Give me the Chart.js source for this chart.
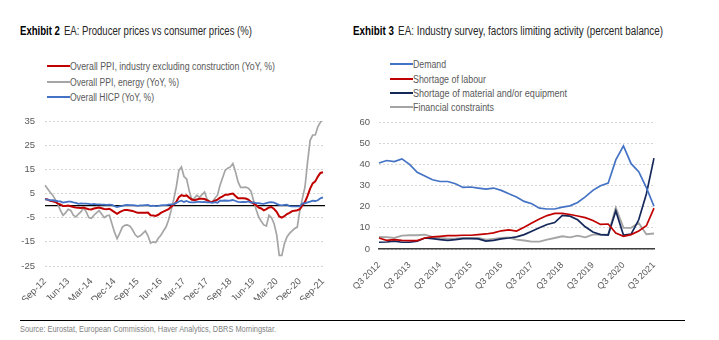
<!DOCTYPE html>
<html>
<head>
<meta charset="utf-8">
<script src="https://cdn.jsdelivr.net/npm/chart.js@4.4.0/dist/chart.umd.min.js"></script>
<style>
    body { margin: 0; background: #fff; }
    #page { position: relative; width: 719px; height: 340px; font-family: 'Liberation Sans', Arial, sans-serif; color: #595959; }
    .title { position: absolute; top: 24px; font-size: 12px; color: #262626; white-space: nowrap; transform-origin: 0 50%; }
    .title b { color: #000; margin-right: 5px; }
    .leg { position: absolute; font-size: 10px; white-space: nowrap; line-height: 12px; }
    .leg i { display: inline-block; width: 23px; height: 2px; vertical-align: middle; margin-right: 0; margin-top: -2px; }
    .fit { display: inline-block; transform-origin: 0 50%; }
    canvas { position: absolute; }
    #rule { position: absolute; left: 20px; top: 320px; width: 665px; height: 0; border-top: 1.5px solid #000; }
    #source { position: absolute; left: 20px; top: 324px; font-size: 8.5px; color: #7f7f7f; white-space: nowrap; transform-origin: 0 50%; }
</style>
</head>
<body>
<div id="page">
    <div class="title fit" data-w="232" style="left:20px"><b>Exhibit 2</b>EA: Producer prices vs consumer prices (%)</div>
    <div class="title fit" data-w="310" style="left:353px"><b>Exhibit 3</b>EA: Industry survey, factors limiting activity (percent balance)</div>

    <div class="leg" style="left:47px;top:61px"><i style="background:#c00000"></i><span class="fit" data-w="205">Overall PPI, industry excluding construction (YoY, %)</span></div>
    <div class="leg" style="left:47px;top:77px"><i style="background:#a5a5a5"></i><span class="fit" data-w="109">Overall PPI, energy (YoY, %)</span></div>
    <div class="leg" style="left:47px;top:92px"><i style="background:#4472c4"></i><span class="fit" data-w="84">Overall HICP (YoY, %)</span></div>

    <div class="leg" style="left:390px;top:59px"><i style="background:#4472c4"></i><span class="fit" data-w="33">Demand</span></div>
    <div class="leg" style="left:390px;top:74px"><i style="background:#c00000"></i><span class="fit" data-w="73">Shortage of labour</span></div>
    <div class="leg" style="left:390px;top:88px"><i style="background:#14285a"></i><span class="fit" data-w="154">Shortage of material and/or equipment</span></div>
    <div class="leg" style="left:390px;top:102px"><i style="background:#a5a5a5"></i><span class="fit" data-w="81">Financial constraints</span></div>

    <canvas id="graphPrices" width="345" height="200" style="left:0;top:100px"></canvas>
    <canvas id="graphSurvey" width="374" height="200" style="left:345px;top:100px"></canvas>

    <div id="rule"></div>
    <div id="source" class="fit" data-w="256">Source: Eurostat, European Commission, Haver Analytics, DBRS Morningstar.</div>
</div>

<script>
// squeeze the html texts to the narrow look of the original
document.querySelectorAll('.fit').forEach(function (el) {
    var w = el.getBoundingClientRect().width;
    el.style.transform = 'scaleX(' + (el.getAttribute('data-w') / w) + ')';
});

// Exhibit 2 - monthly, Sep-12 to Sep-21
var monthNames = ['Jan', 'Feb', 'Mar', 'Apr', 'May', 'Jun', 'Jul', 'Aug', 'Sep', 'Oct', 'Nov', 'Dec'];
var months = [];
for (var k = 0; k < 109; k++) {
    var m = (8 + k) % 12, y = 12 + Math.floor((8 + k) / 12);
    months.push(monthNames[m] + '-' + y);
}
var monthTicks = ['Sep-12', 'Jun-13', 'Mar-14', 'Dec-14', 'Sep-15', 'Jun-16', 'Mar-17', 'Dec-17', 'Sep-18', 'Jun-19', 'Mar-20', 'Dec-20', 'Sep-21'];

var ppiIndustry = [
    2.7, 2.5, 2.0, 1.8,
    1.5, 0.8, 0.5, -0.2, -0.2, 0.0, -0.3, -0.6, -0.8, -0.9, -1.0, -0.8,
    -1.2, -1.5, -1.6, -1.2, -1.0, -0.8, -1.1, -1.4, -1.5, -1.3, -2.0, -2.7,
    -3.4, -2.7, -2.2, -1.8, -1.8, -2.0, -2.2, -2.6, -3.0, -3.0, -3.0, -3.0,
    -2.9, -4.0, -4.1, -4.3, -3.8, -3.0, -2.5, -2.0, -1.5, -0.5, 0.3, 1.5,
    3.5, 4.3, 4.0, 4.2, 3.3, 2.5, 2.2, 2.5, 2.8, 2.8, 2.7, 2.2,
    1.6, 1.5, 2.0, 2.5, 3.3, 3.8, 4.5, 4.5, 4.8, 5.0, 4.0, 3.0,
    3.0, 3.0, 2.9, 2.5, 1.5, 0.8, 0.2, -0.8, -1.2, -2.0, -1.5, -0.8,
    -0.6, -1.4, -2.6, -4.5, -5.0, -4.4, -3.5, -3.0, -2.3, -2.1, -1.9, -1.5,
    0.1, 1.5, 4.0, 7.0, 9.2, 10.0, 12.0, 13.5, 13.8
];
var ppiEnergy = [
    8.4, 7.0, 5.5, 4.3,
    2.5, 0.5, -2.0, -4.0, -3.0, -1.5, -2.0, -4.0, -4.7, -3.5, -2.5, -1.0,
    -2.5, -5.0, -5.3, -4.0, -3.0, -2.0, -3.5, -5.0, -4.2, -4.0, -7.5, -11.0,
    -13.7, -11.5, -9.0, -8.2, -8.0, -8.5, -10.0, -12.0, -13.0, -12.5, -11.5, -10.5,
    -12.5, -15.5, -15.0, -15.3, -13.5, -12.3, -10.5, -8.9, -6.0, -2.0, 2.5, 7.7,
    14.5, 16.0, 12.0, 11.0, 6.3, 2.5, 3.0, 4.3, 3.4, 4.5, 5.6, 2.5,
    1.8, 1.5, 3.0, 4.3, 8.4, 11.5, 14.6, 15.5, 16.0, 17.4, 14.0, 9.8,
    7.5, 7.5, 7.6, 7.2, 6.0, 2.2, -1.5, -4.7, -6.5, -8.0, -8.5, -4.0,
    -5.0, -7.5, -12.0, -20.6, -20.6, -15.8, -13.0, -11.5, -10.5, -9.5, -8.9, -2.0,
    3.0, 7.7, 18.0, 27.0, 29.2, 29.2, 32.6, 34.5, 36.0
];
var hicp = [
    2.6, 2.5, 2.2, 2.2,
    2.0, 1.8, 1.7, 1.2, 1.4, 1.6, 1.6, 1.3, 1.1, 0.7, 0.9, 0.8,
    0.8, 0.7, 0.5, 0.7, 0.5, 0.5, 0.4, 0.4, 0.3, 0.4, 0.3, -0.2,
    -0.6, -0.3, -0.1, 0.2, 0.3, 0.2, 0.2, 0.1, -0.1, 0.1, 0.1, 0.2,
    0.3, -0.2, 0.0, -0.2, -0.1, 0.1, 0.2, 0.2, 0.4, 0.5, 0.6, 1.1,
    1.7, 2.0, 1.5, 1.9, 1.4, 1.3, 1.3, 1.5, 1.5, 1.4, 1.5, 1.3,
    1.3, 1.1, 1.4, 1.2, 2.0, 2.0, 2.1, 2.0, 2.1, 2.3, 1.9, 1.5,
    1.4, 1.5, 1.4, 1.7, 1.2, 1.3, 1.0, 1.0, 0.8, 0.7, 1.0, 1.3,
    1.4, 1.2, 0.7, 0.3, 0.1, 0.3, 0.4, -0.2, -0.3, -0.3, -0.3, -0.3,
    0.9, 0.9, 1.3, 1.6, 2.0, 1.9, 2.2, 3.0, 3.4
];

// Exhibit 3 - quarterly, Q3 2012 to Q3 2021
var quarters = [];
for (var j = 0; j < 37; j++) {
    quarters.push('Q' + ((2 + j) % 4 + 1) + ' ' + (2012 + Math.floor((2 + j) / 4)));
}
var quarterTicks = ['Q3 2012', 'Q3 2013', 'Q3 2014', 'Q3 2015', 'Q3 2016', 'Q3 2017', 'Q3 2018', 'Q3 2019', 'Q3 2020', 'Q3 2021'];

var demand = [40.6, 41.8, 41.3, 42.6, 40.0, 36.2, 34.5, 32.7, 31.9, 31.9, 30.8, 29.1, 29.3, 28.8, 28.3, 28.8, 27.7, 26.1, 24.6, 22.5,
    21.4, 19.3, 18.9, 18.9, 19.8, 20.4, 22.0, 24.6, 27.7, 29.9, 31.1, 42.1, 48.7, 40.3, 36.5, 29.0, 20.2];
var labour = [5.2, 4.1, 4.4, 4.1, 4.0, 4.0, 5.2, 5.7, 6.0, 6.3, 6.3, 6.5, 6.5, 6.8, 7.1, 7.6, 8.6, 9.0, 8.5, 10.3,
    12.3, 14.2, 15.8, 16.8, 16.8, 16.3, 15.6, 14.8, 13.5, 11.6, 11.8, 7.5, 6.0, 6.8, 8.5, 11.0, 19.3];
var material = [3.2, 3.3, 3.7, 3.2, 3.2, 3.7, 5.2, 4.9, 4.4, 4.1, 4.4, 4.9, 4.9, 4.8, 3.7, 4.1, 4.8, 5.2, 5.7, 6.8,
    8.4, 10.0, 11.6, 12.5, 15.9, 15.5, 13.8, 10.5, 8.0, 6.8, 6.6, 18.0, 6.6, 7.0, 13.8, 26.0, 42.9];
var financial = [5.7, 5.6, 5.2, 6.3, 6.5, 6.5, 6.8, 5.7, 5.2, 4.9, 4.9, 5.2, 5.2, 5.2, 4.4, 4.8, 5.2, 5.4, 4.4, 4.0,
    3.5, 3.5, 4.4, 5.2, 6.0, 5.5, 6.3, 5.5, 6.8, 6.8, 6.8, 19.5, 10.0, 10.0, 12.3, 7.0, 7.3];

var axisFont = { family: "'Liberation Sans', Arial, sans-serif", size: 9.5 };
var axisColor = '#595959';

new Chart(document.getElementById('graphPrices').getContext('2d'), {
    type: 'line',
    data: {
        labels: months,
        datasets: [
            { data: ppiIndustry, borderColor: '#c00000', borderWidth: 2, order: 1 },
            { data: ppiEnergy, borderColor: '#a5a5a5', borderWidth: 1.7, order: 2 },
            { data: hicp, borderColor: '#4472c4', borderWidth: 1.8, order: 0 }
        ]
    },
    options: {
        responsive: false,
        animation: false,
        elements: { point: { radius: 0 }, line: { tension: 0 } },
        layout: { padding: { left: 0, right: 22, top: 21, bottom: 0 } },
        plugins: { legend: { display: false }, tooltip: { enabled: false } },
        scales: {
            x: {
                grid: { display: false },
                border: { display: false },
                afterFit: function (scale) { scale.height = 34; },
                ticks: {
                    autoSkip: false, minRotation: 45, maxRotation: 45, padding: 2,
                    color: axisColor, font: axisFont,
                    callback: function (v) {
                        var lbl = this.getLabelForValue(v);
                        return monthTicks.indexOf(lbl) >= 0 ? lbl : '';
                    }
                }
            },
            y: {
                min: -25, max: 35,
                grid: { color: '#d4d4d4', drawTicks: false },
                border: { display: false, dash: [2, 2] },
                afterFit: function (scale) { scale.width = 45; },
                ticks: { stepSize: 10, padding: 10, color: axisColor, font: axisFont }
            }
        }
    },
    plugins: [{
        id: 'zeroLine',
        beforeDatasetsDraw: function (chart) {
            var ctx = chart.ctx, area = chart.chartArea;
            var y0 = chart.scales.y.getPixelForValue(0);
            ctx.save();
            ctx.strokeStyle = '#000';
            ctx.lineWidth = 1.3;
            ctx.beginPath();
            ctx.moveTo(area.left, y0);
            ctx.lineTo(area.right + 2, y0);
            ctx.stroke();
            ctx.restore();
        }
    }]
});

new Chart(document.getElementById('graphSurvey').getContext('2d'), {
    type: 'line',
    data: {
        labels: quarters,
        datasets: [
            { data: demand, borderColor: '#4472c4', borderWidth: 1.7 },
            { data: labour, borderColor: '#c00000', borderWidth: 1.7 },
            { data: material, borderColor: '#14285a', borderWidth: 1.7 },
            { data: financial, borderColor: '#a5a5a5', borderWidth: 1.9 }
        ]
    },
    options: {
        responsive: false,
        animation: false,
        elements: { point: { radius: 0 }, line: { tension: 0 } },
        layout: { padding: { left: 0, right: 65, top: 22, bottom: 0 } },
        plugins: { legend: { display: false }, tooltip: { enabled: false } },
        scales: {
            x: {
                grid: { display: false },
                border: { display: true, color: '#404040', width: 1.5 },
                afterFit: function (scale) { scale.height = 51; },
                ticks: {
                    autoSkip: false, minRotation: 45, maxRotation: 45, padding: 3,
                    color: axisColor, font: { family: axisFont.family, size: 9 },
                    callback: function (v) {
                        var lbl = this.getLabelForValue(v);
                        return quarterTicks.indexOf(lbl) >= 0 ? lbl : '';
                    }
                }
            },
            y: {
                min: 0, max: 60,
                grid: { color: '#d4d4d4', drawTicks: false },
                border: { display: false, dash: [2, 2] },
                afterFit: function (scale) { scale.width = 34; },
                ticks: { stepSize: 10, padding: 9, color: axisColor, font: axisFont }
            }
        }
    }
});
</script>
</body>
</html>
